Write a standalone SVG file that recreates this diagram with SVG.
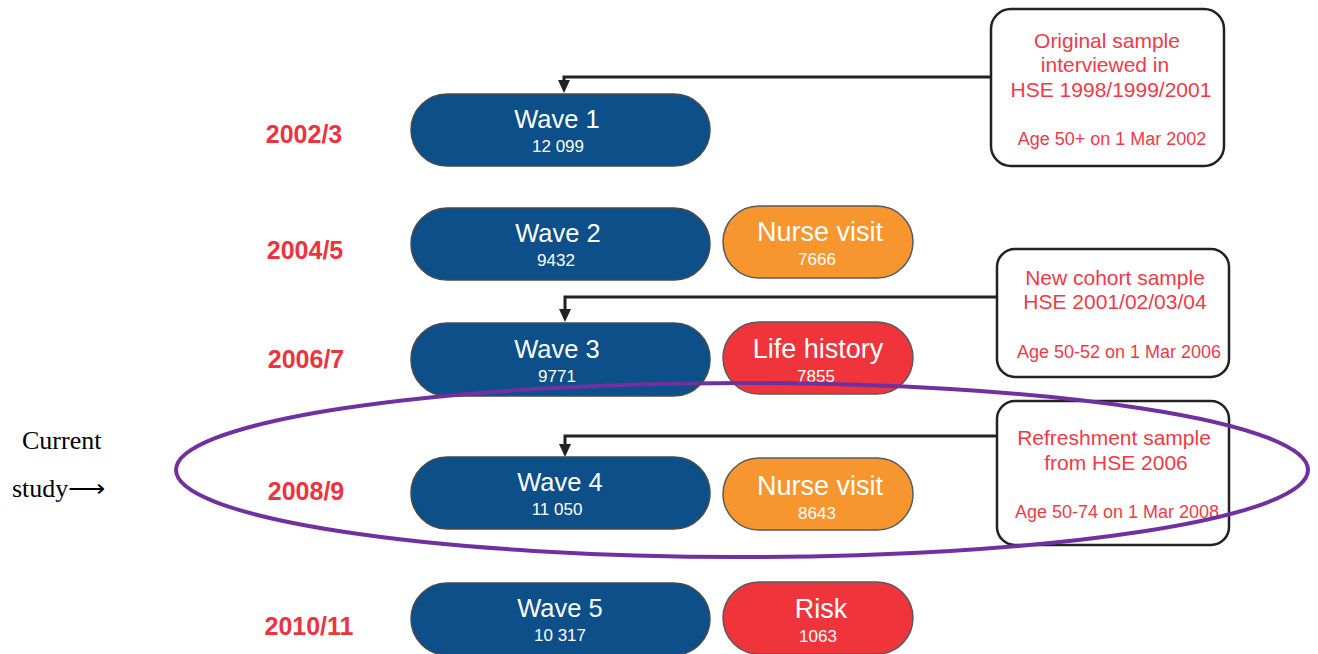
<svg xmlns="http://www.w3.org/2000/svg" width="1318" height="654" viewBox="0 0 1318 654">
<defs>
<style>
.wave{fill:#0d4f88;stroke:#4a4a4a;stroke-width:1.5}
.orange{fill:#f7952e;stroke:#5a5a5a;stroke-width:1.5}
.red{fill:#ef343b;stroke:#5a5a5a;stroke-width:1.5}
.t1{font-family:"Liberation Sans",Arial,sans-serif;font-size:25.5px;fill:#fff;text-anchor:middle}
.t1r{font-family:"Liberation Sans",Arial,sans-serif;font-size:27px;fill:#fff;text-anchor:middle}
.t2{font-family:"Liberation Sans",Arial,sans-serif;font-size:17px;fill:#fff;text-anchor:middle}
.year{font-family:"Liberation Sans",Arial,sans-serif;font-size:25px;font-weight:bold;fill:#ec3340;text-anchor:middle}
.box{fill:#fff;stroke:#222;stroke-width:2.5}
.ct{font-family:"Liberation Sans",Arial,sans-serif;font-size:21px;fill:#f03a48;text-anchor:middle}
.cs{font-family:"Liberation Sans",Arial,sans-serif;font-size:18px;fill:#f03a48;text-anchor:middle}
.conn{fill:none;stroke:#222;stroke-width:3}
.cur{font-family:"Liberation Serif","Times New Roman",serif;font-size:26px;fill:#000}
</style>
</defs>
<rect width="1318" height="654" fill="#fff"/>

<g id="years">
<text class="year" x="304" y="143">2002/3</text>
<text class="year" x="305" y="259">2004/5</text>
<text class="year" x="306" y="368">2006/7</text>
<text class="year" x="306" y="500">2008/9</text>
<text class="year" x="309" y="635">2010/11</text>
</g>

<g id="connectors">
<path class="conn" d="M993,77 H564 V86"/>
<path d="M558,80 L570,80 L564,93 Z" fill="#222"/>
<path class="conn" d="M997,297 H565 V315"/>
<path d="M559,309 L571,309 L565,322 Z" fill="#222"/>
<path class="conn" d="M997,436 H565 V450"/>
<path d="M559,444 L571,444 L565,457 Z" fill="#222"/>
</g>

<g id="wave1"><rect class="wave" x="411" y="94" width="299" height="72" rx="36"/><text class="t1" x="557" y="128">Wave 1</text><text class="t2" x="558" y="152">12 099</text></g>
<g id="wave2"><rect class="wave" x="411" y="208" width="299" height="72" rx="36"/><text class="t1" x="558" y="242">Wave 2</text><text class="t2" x="556" y="266">9432</text></g>
<g id="wave3"><rect class="wave" x="411" y="323" width="299" height="73" rx="36"/><text class="t1" x="557" y="358">Wave 3</text><text class="t2" x="557" y="382">9771</text></g>
<g id="wave4"><rect class="wave" x="411" y="457" width="299" height="72" rx="36"/><text class="t1" x="560" y="491">Wave 4</text><text class="t2" x="557" y="515">11 050</text></g>
<g id="wave5"><rect class="wave" x="411" y="583" width="299" height="72" rx="36"/><text class="t1" x="560" y="617">Wave 5</text><text class="t2" x="560" y="641">10 317</text></g>

<g id="nurse1"><rect class="orange" x="723" y="206" width="190" height="72" rx="36"/><text class="t1r" x="820" y="241">Nurse visit</text><text class="t2" x="817" y="265">7666</text></g>
<g id="lifehistory"><rect class="red" x="723" y="322" width="190" height="72" rx="36"/><text class="t1r" x="818" y="358">Life history</text><text class="t2" x="816" y="382">7855</text></g>
<g id="nurse2"><rect class="orange" x="723" y="458" width="190" height="72" rx="36"/><text class="t1r" x="820" y="495">Nurse visit</text><text class="t2" x="817" y="519">8643</text></g>
<g id="risk"><rect class="red" x="723" y="582" width="190" height="72" rx="36"/><text class="t1r" x="821" y="618">Risk</text><text class="t2" x="818" y="642">1063</text></g>

<g id="callout1"><rect class="box" x="991" y="9" width="233" height="157" rx="20"/>
<text class="ct" x="1107" y="48">Original sample</text>
<text class="ct" x="1105" y="72">interviewed in</text>
<text class="ct" x="1111" y="97">HSE 1998/1999/2001</text>
<text class="cs" x="1112" y="145">Age 50+ on 1 Mar 2002</text></g>

<g id="callout2"><rect class="box" x="997" y="249" width="232" height="128" rx="18"/>
<text class="ct" x="1115" y="285">New cohort sample</text>
<text class="ct" x="1115" y="309">HSE 2001/02/03/04</text>
<text class="cs" x="1119" y="358">Age 50-52 on 1 Mar 2006</text></g>

<g id="callout3"><rect class="box" x="997" y="401" width="232" height="144" rx="18"/>
<text class="ct" x="1114" y="445">Refreshment sample</text>
<text class="ct" x="1116" y="470">from HSE 2006</text>
<text class="cs" x="1117" y="518">Age 50-74 on 1 Mar 2008</text></g>

<g id="current-study">
<ellipse cx="742" cy="470" rx="566" ry="87" fill="none" stroke="#7030a0" stroke-width="4"/>
<text class="cur" x="22" y="449">Current</text>
<text class="cur" x="12" y="497">study⟶</text>
</g>
</svg>
